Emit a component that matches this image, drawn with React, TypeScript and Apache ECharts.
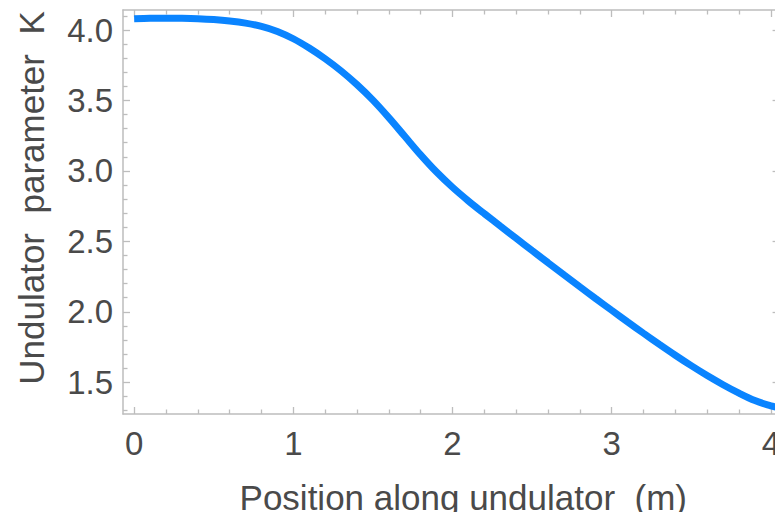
import React, { useEffect, useRef } from "react";
import * as echarts from "echarts";

// Position along undulator (m)
const positions = [
  0, 0.1, 0.2, 0.3, 0.4, 0.5, 0.6, 0.7, 0.8, 0.9, 1.0, 1.1, 1.2, 1.3, 1.4,
  1.5, 1.6, 1.7, 1.8, 1.9, 2.0, 2.1, 2.2, 2.3, 2.4, 2.5, 2.6, 2.7, 2.8, 2.9,
  3.0, 3.1, 3.2, 3.3, 3.4, 3.5, 3.6, 3.7, 3.8, 3.9, 4.0, 4.03,
];
// Undulator parameter K
const kValues = [
  4.08, 4.083, 4.084, 4.083, 4.08, 4.074, 4.064, 4.049, 4.026, 3.99, 3.938,
  3.872, 3.796, 3.71, 3.612, 3.502, 3.378, 3.246, 3.114, 2.992, 2.884, 2.787,
  2.697, 2.609, 2.522, 2.435, 2.349, 2.263, 2.178, 2.094, 2.011, 1.929, 1.848,
  1.769, 1.692, 1.618, 1.548, 1.483, 1.423, 1.37, 1.333, 1.325,
];

const xMajorTicks = [0, 1, 2, 3, 4];
const xMinorTicks = [
  0.2, 0.4, 0.6, 0.8, 1.2, 1.4, 1.6, 1.8, 2.2, 2.4, 2.6, 2.8, 3.2, 3.4, 3.6,
  3.8,
];
const yMajorTicks = [1.5, 2.0, 2.5, 3.0, 3.5, 4.0];
const yMinorTicks = [
  1.3, 1.4, 1.6, 1.7, 1.8, 1.9, 2.1, 2.2, 2.3, 2.4, 2.6, 2.7, 2.8, 2.9, 3.1,
  3.2, 3.3, 3.4, 3.6, 3.7, 3.8, 3.9, 4.1,
];

const X_MIN = -0.07;
const X_MAX = 4.055;
const Y_MIN = 1.275;
const Y_MAX = 4.142;

const FRAME = "#bdbdbd";
const TEXT = "#4a4a4a";
const FONT = "'Liberation Sans', Arial, Helvetica, sans-serif";

function makeAxis(
  position: string,
  min: number,
  max: number,
  ticks: number[],
  tickLen: number,
  showLine: boolean,
  label: any,
  extra: any = {}
) {
  return {
    type: "value",
    position,
    min,
    max,
    axisLine: {
      show: showLine,
      onZero: false,
      lineStyle: { color: FRAME, width: 1.5 },
    },
    axisTick: {
      show: true,
      inside: true,
      length: tickLen,
      customValues: ticks,
      lineStyle: { color: FRAME, width: 1.3 },
    },
    axisLabel: label,
    splitLine: { show: false },
    ...extra,
  };
}

export default function App() {
  const ref = useRef<HTMLDivElement>(null);

  useEffect(() => {
    if (!ref.current) return;
    const chart = echarts.init(ref.current, undefined, { renderer: "svg" });
    const data = positions.map((x, i) => [x, kValues[i]]);
    const hidden = { show: false };

    chart.setOption({
      animation: false,
      backgroundColor: "#ffffff",
      grid: { left: 123, right: 2, top: 10, bottom: 100, containLabel: false },
      xAxis: [
        makeAxis(
          "bottom",
          X_MIN,
          X_MAX,
          xMajorTicks,
          7,
          true,
          {
            show: true,
            customValues: xMajorTicks,
            color: TEXT,
            fontSize: 33,
            fontFamily: FONT,
            margin: 13,
            formatter: (v: number) => String(Math.round(v)),
          },
          {
            name: "Position along undulator  (m)",
            nameLocation: "middle",
            nameGap: 66,
            nameTextStyle: {
              color: TEXT,
              fontSize: 35,
              fontFamily: FONT,
              padding: [0, 0, 0, 24],
            },
          }
        ),
        makeAxis("bottom", X_MIN, X_MAX, xMinorTicks, 4.5, false, hidden),
        makeAxis("top", X_MIN, X_MAX, xMajorTicks, 7, true, hidden),
        makeAxis("top", X_MIN, X_MAX, xMinorTicks, 4.5, false, hidden),
      ],
      yAxis: [
        makeAxis(
          "left",
          Y_MIN,
          Y_MAX,
          yMajorTicks,
          7,
          true,
          {
            show: true,
            customValues: yMajorTicks,
            color: TEXT,
            fontSize: 33,
            fontFamily: FONT,
            margin: 10,
            formatter: (v: number) => v.toFixed(1),
          },
          {
            name: "Undulator  parameter  K",
            nameLocation: "middle",
            nameGap: 74,
            nameRotate: 90,
            nameTextStyle: {
              color: TEXT,
              fontSize: 35,
              fontFamily: FONT,
              padding: [0, 0, 0, 28],
            },
          }
        ),
        makeAxis("left", Y_MIN, Y_MAX, yMinorTicks, 4.5, false, hidden),
        makeAxis("right", Y_MIN, Y_MAX, yMajorTicks, 7, true, hidden),
        makeAxis("right", Y_MIN, Y_MAX, yMinorTicks, 4.5, false, hidden),
      ],
      series: [
        {
          type: "line",
          xAxisIndex: 0,
          yAxisIndex: 0,
          data,
          smooth: 0.35,
          showSymbol: false,
          symbol: "none",
          clip: false,
          lineStyle: { color: "#0a84ff", width: 7, cap: "butt" },
        },
      ],
    });

    return () => chart.dispose();
  }, []);

  return <div ref={ref} style={{ width: 783, height: 520, margin: -8 }} />;
}
